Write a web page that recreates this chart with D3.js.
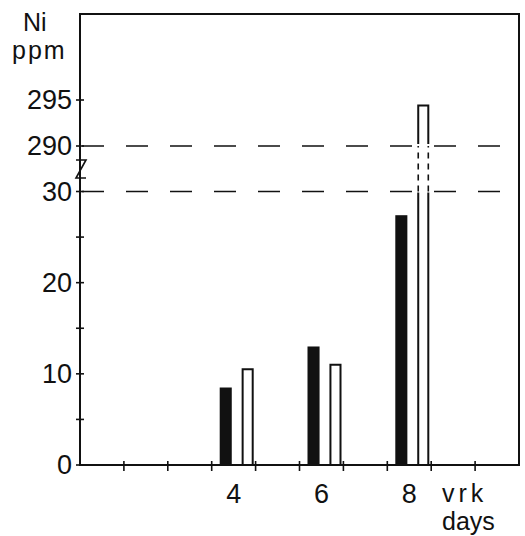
<!DOCTYPE html>
<html>
<head>
<meta charset="utf-8">
<script src="https://cdn.jsdelivr.net/npm/d3@7"></script>
<style>
  html, body { margin: 0; padding: 0; background: #fff; }
  svg { display: block; }
  text { font-family: "Liberation Sans", "DejaVu Sans", sans-serif; fill: #111; }
</style>
</head>
<body>
<script>
// ---- data ----
const dayCategories = [1, 2, 3, 4, 5, 6, 7, 8, 9, 10];
const dayTickLabels = [4, 6, 8];
const seriesNames = ["black", "white"];
const barDays = [4, 6, 8];
const blackValues = [8.5, 13.0, 27.4];
const whiteValues = [10.5, 11.0, 294.4];
const lowTickLabels = [0, 10, 20, 30];
const lowMinorTicks = [5, 15, 25];
const highTickLabels = [290, 295];
const breakLow = 30;
const breakHigh = 290;

// ---- layout ----
const W = 525, H = 536;
const mLeft = 80, mRight = 519, mTop = 14, mBottom = 465;
const ink = "#111";

const svg = d3.select("body").append("svg").attr("width", W).attr("height", H);

const x = d3.scaleBand().domain(dayCategories).range([mLeft, mRight]);
const x1 = d3.scaleBand().domain(seriesNames).range([8, 42]).paddingInner(0.45);
const yLow = d3.scaleLinear().domain([0, breakLow]).range([mBottom, 191.5]);
const yHigh = d3.scaleLinear().domain([breakHigh, 295]).range([146, 100]);

// dashed break lines
[yHigh(breakHigh), yLow(breakLow)].forEach(yy => {
  svg.append("line")
    .attr("x1", mLeft + 2).attr("x2", mRight)
    .attr("y1", yy).attr("y2", yy)
    .attr("stroke", ink).attr("stroke-width", 1.6)
    .attr("stroke-dasharray", "22,22");
});

// bars
const rows = barDays.map((d, i) => ({ day: d, black: blackValues[i], white: whiteValues[i] }));
const bw = x1.bandwidth();

rows.forEach(r => {
  const bx = x(r.day) + x1("black");
  svg.append("rect")
    .attr("x", bx).attr("width", bw)
    .attr("y", yLow(r.black)).attr("height", mBottom - yLow(r.black))
    .attr("fill", ink);

  const wx = x(r.day) + x1("white");
  const xl = wx + 1, xr = wx + bw - 1;
  if (r.white <= breakLow) {
    const yt = yLow(r.white);
    svg.append("rect").attr("x", xl).attr("y", yt).attr("width", xr - xl).attr("height", mBottom - yt).attr("fill", "#fff");
    svg.append("path")
      .attr("d", `M${xl},${mBottom}V${yt}H${xr}V${mBottom}`)
      .attr("fill", "none").attr("stroke", ink).attr("stroke-width", 2);
  } else {
    const yt = yHigh(r.white);
    svg.append("rect").attr("x", xl).attr("y", yt).attr("width", xr - xl).attr("height", mBottom - yt).attr("fill", "#fff");
    svg.append("path")
      .attr("d", `M${xl},${mBottom}V${yLow(breakLow) + 1}M${xr},${mBottom}V${yLow(breakLow) + 1}`)
      .attr("fill", "none").attr("stroke", ink).attr("stroke-width", 2);
    svg.append("path")
      .attr("d", `M${xl},${yLow(breakLow)}V${yHigh(breakHigh)}M${xr},${yLow(breakLow)}V${yHigh(breakHigh)}`)
      .attr("fill", "none").attr("stroke", ink).attr("stroke-width", 1.6)
      .attr("stroke-dasharray", "6,5");
    svg.append("path")
      .attr("d", `M${xl},${yHigh(breakHigh) - 2}V${yt}H${xr}V${yHigh(breakHigh) - 2}`)
      .attr("fill", "none").attr("stroke", ink).attr("stroke-width", 2);
  }
});

// frame
svg.append("rect")
  .attr("x", mLeft).attr("y", mTop)
  .attr("width", mRight - mLeft).attr("height", mBottom - mTop)
  .attr("fill", "none").attr("stroke", ink).attr("stroke-width", 2);

// y ticks (crossing the axis)
const yTickPos = lowTickLabels.concat(lowMinorTicks).map(v => yLow(v))
  .concat(highTickLabels.map(v => yHigh(v)));
yTickPos.forEach(yy => {
  svg.append("line").attr("x1", mLeft - 4).attr("x2", mLeft + 4)
    .attr("y1", yy).attr("y2", yy).attr("stroke", ink).attr("stroke-width", 1.6);
});

// x ticks (crossing the axis) at band boundaries
dayCategories.slice(1).forEach(d => {
  const xx = x(d);
  svg.append("line").attr("x1", xx).attr("x2", xx)
    .attr("y1", mBottom - 4).attr("y2", mBottom + 6).attr("stroke", ink).attr("stroke-width", 1.6);
});

// axis break mark
svg.append("path")
  .attr("d", `M${mLeft - 4},160H${mLeft + 6}L${mLeft - 4},178H${mLeft + 6}`)
  .attr("fill", "none").attr("stroke", ink).attr("stroke-width", 1.6);

// tick labels via d3 axes
const fs = 27;
const fmt = d3.format("d");
const gLow = svg.append("g").attr("transform", `translate(${mLeft},0)`)
  .call(d3.axisLeft(yLow).tickValues(lowTickLabels).tickFormat(fmt).tickSize(0).tickPadding(8));
const gHigh = svg.append("g").attr("transform", `translate(${mLeft},0)`)
  .call(d3.axisLeft(yHigh).tickValues(highTickLabels).tickFormat(fmt).tickSize(0).tickPadding(8));
const gX = svg.append("g").attr("transform", `translate(0,${mBottom})`)
  .call(d3.axisBottom(x).tickValues(dayTickLabels).tickFormat(fmt).tickSize(0).tickPadding(19));
[gLow, gHigh, gX].forEach(g => {
  g.select(".domain").remove();
  g.selectAll("text").attr("font-size", fs).attr("font-family", '"Liberation Sans", "DejaVu Sans", sans-serif').attr("fill", ink);
});

// axis titles
const tfs = 25;
svg.append("text").attr("x", 23).attr("y", 31).attr("font-size", tfs).text("Ni");
svg.append("text").attr("x", 12).attr("y", 59).attr("font-size", tfs).attr("letter-spacing", 2).text("ppm");
svg.append("text").attr("x", 442).attr("y", 502).attr("font-size", tfs).attr("letter-spacing", 4).text("vrk");
svg.append("text").attr("x", 442).attr("y", 530).attr("font-size", tfs).text("days");
</script>
</body>
</html>
